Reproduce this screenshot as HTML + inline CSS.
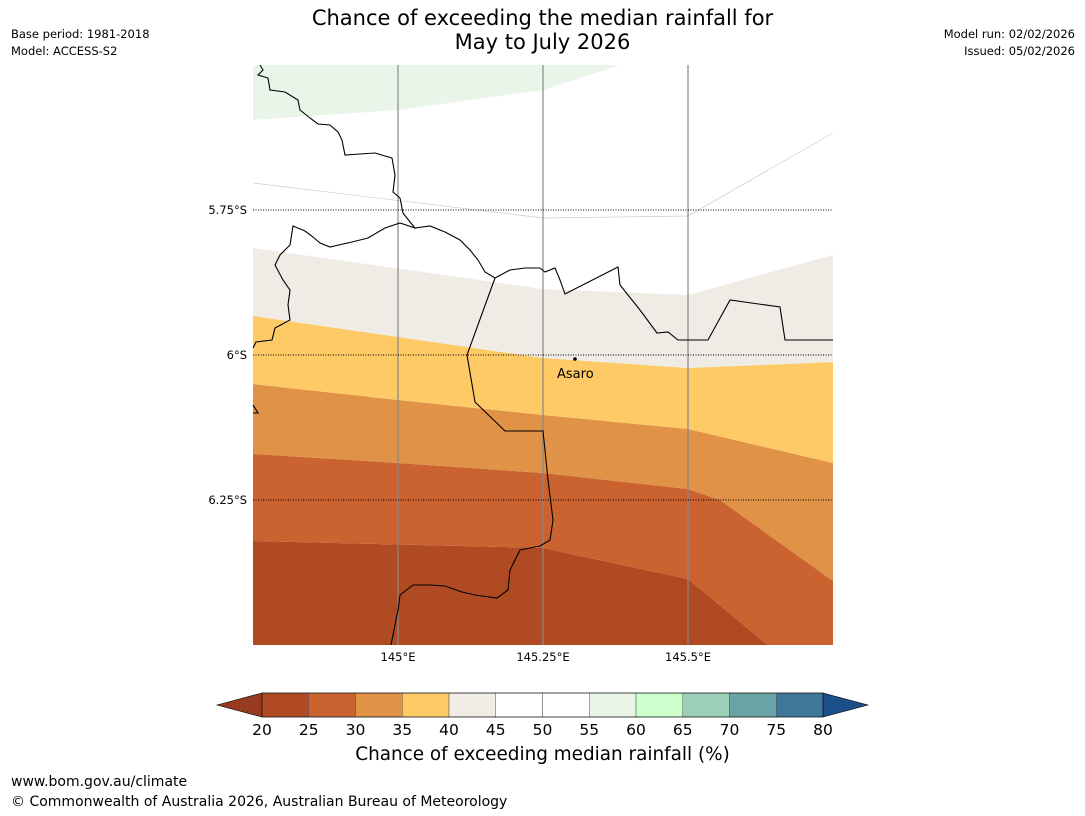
<!DOCTYPE html>
<html><head><meta charset="utf-8"><style>
body{margin:0;background:#fff;font-family:"DejaVu Sans","Liberation Sans",sans-serif;}
#wrap{position:relative;width:1085px;height:816px;overflow:hidden;}
.t{position:absolute;white-space:nowrap;color:#000;}
</style></head><body>
<div id="wrap">
<div class="t" style="left:0;width:1085px;top:6px;text-align:center;font-size:21px;line-height:24px;">Chance of exceeding the median rainfall for<br>May to July 2026</div>
<div class="t" style="left:11px;top:26px;font-size:11.5px;line-height:17px;">Base period: 1981-2018<br>Model: ACCESS-S2</div>
<div class="t" style="right:10px;top:26px;font-size:11.5px;line-height:17px;text-align:right;">Model run: 02/02/2026<br>Issued: 05/02/2026</div>
<svg id="map" width="1085" height="816" style="position:absolute;left:0;top:0"></svg>
<div class="t" style="left:0;width:1085px;text-align:center;top:744px;font-size:18.4px;">Chance of exceeding median rainfall (%)</div>
<div class="t" style="left:11px;top:774px;font-size:14px;">www.bom.gov.au/climate</div>
<div class="t" style="left:11px;top:794px;font-size:14px;">© Commonwealth of Australia 2026, Australian Bureau of Meteorology</div>
</div>
<script>
const lonTicks=[145,145.25,145.5];
const latTicks=[5.75,6,6.25];
const lonTickLabels=["145°E","145.25°E","145.5°E"];
const latTickLabels=["5.75°S","6°S","6.25°S"];
const cbLevels=[20,25,30,35,40,45,50,55,60,65,70,75,80];
const cbColors=["#b04a23","#cb6331","#e09247","#fdca66","#f0ebe5","#ffffff","#ffffff","#e9f5e9","#ccffcc","#9ccfb7","#6aa3a5","#3e7799"];
const X0=253,X1=833,Y0=65,Y1=645,LON0=144.75,LON1=145.75,LAT0=5.5,LAT1=6.5;
const FF='DejaVu Sans, Liberation Sans, sans-serif';
const px=l=>X0+(l-LON0)/(LON1-LON0)*(X1-X0);
const py=l=>Y0+(l-LAT0)/(LAT1-LAT0)*(Y1-Y0);
const svg=document.getElementById('map');const NS="http://www.w3.org/2000/svg";
function mk(tag,attrs,parent){const e=document.createElementNS(NS,tag);for(const k in attrs)e.setAttribute(k,attrs[k]);(parent||svg).appendChild(e);return e;}
const P=(a)=>a.map(p=>p.join(',')).join(' ');
const bands=[
 {c:"#b04a23",n:"band-20-25",pts:[[253,541],[543,548],[688,579],[768,645],[253,645]]},
 {c:"#cb6331",n:"band-25-30",pts:[[253,454],[398,463],[543,473],[688,489],[720,500],[833,581],[833,645],[768,645],[688,579],[543,548],[253,541]]},
 {c:"#e09247",n:"band-30-35",pts:[[253,384],[398,400],[543,415],[688,429],[833,463],[833,581],[720,500],[688,489],[543,473],[398,463],[253,454]]},
 {c:"#fdca66",n:"band-35-40",pts:[[253,316],[543,358],[688,368],[833,362],[833,463],[688,429],[543,415],[398,400],[253,384]]},
 {c:"#f0ebe5",n:"band-40-45",pts:[[253,248],[543,289],[688,295],[833,255],[833,362],[688,368],[543,358],[253,316]]},
 {c:"#e9f5e9",n:"band-55-60",pts:[[253,65],[620,65],[543,90],[398,110],[253,120]]}
];
bands.forEach(b=>{const e=mk('polygon',{points:P(b.pts),fill:b.c});});
const cl=mk('polyline',{points:P([[253,183],[543,218],[688,216],[833,133]]),fill:'none',stroke:'#ccc','stroke-width':0.7});

lonTicks.forEach((l,i)=>{const x=px(l);
 const g=mk('line',{x1:x,x2:x,y1:Y0,y2:Y1,stroke:'#888','stroke-width':1.2});
 const t=mk('text',{x:x,y:661,'font-size':11.5,'text-anchor':'middle','font-family':FF});t.textContent=lonTickLabels[i];});
latTicks.forEach((l,i)=>{const y=py(l);
 const g=mk('line',{x1:X0,x2:X1,y1:y,y2:y,stroke:'#000','stroke-width':1,'stroke-dasharray':'1,1.5'});
 const t=mk('text',{x:247,y:y+4,'font-size':11.5,'text-anchor':'end','font-family':FF});t.textContent=latTickLabels[i];});
const coast=[[260,65],[263,70],[258,75],[268,78],[270,90],[285,92],[298,100],[300,110],[310,118],[318,124],[330,125],[338,132],[342,140],[345,155],[360,154],[375,153],[392,158],[395,175],[393,192],[400,198],[403,213],[410,222],[415,228],[400,223],[385,228],[368,238],[352,242],[343,244],[330,247],[320,243],[313,237],[305,231],[293,226],[290,245],[280,255],[275,265],[283,280],[290,290],[288,305],[290,320],[275,328],[272,340],[256,342],[253,348]];
const coast2=[[415,228],[430,226],[445,232],[460,240],[470,250],[478,260],[485,272],[495,278],[510,270],[525,268],[540,268],[545,272],[555,268],[560,280],[565,294],[618,267],[620,285],[628,295],[640,310],[657,333],[668,332],[678,340],[708,340],[730,300],[780,307],[785,340],[833,340]];
const prov=[[495,278],[467,355],[475,402],[505,431],[543,431],[548,480],[553,520],[550,540],[540,546],[520,550],[510,570],[508,590],[497,598],[475,595],[462,592],[445,586],[430,585],[413,585],[400,595],[398,610],[391,645]];
[[coast,'coastline'],[coast2,'coastline-east'],[prov,'province-border'],[[[253,405],[258,413],[253,413]],'coastline-fragment']].forEach(([a,n])=>{const e=mk('polyline',{points:P(a),fill:'none',stroke:'#000','stroke-width':1.1});});
const dot=mk('circle',{cx:575,cy:359,r:1.8,fill:'#000'});
const at=mk('text',{x:557,y:378,'font-size':13,'font-family':FF});at.textContent='Asaro';
const CB0=262,CB1=823,CBY=693,CBH=24,w=(CB1-CB0)/cbColors.length;
const lt=mk('polygon',{points:P([[217,705],[CB0,CBY],[CB0,CBY+CBH]]),fill:'#973b20',stroke:'#000','stroke-width':0.6});
const rt=mk('polygon',{points:P([[868,705],[CB1,CBY],[CB1,CBY+CBH]]),fill:'#1b4f8a',stroke:'#000','stroke-width':0.6});
cbColors.forEach((c,i)=>{const r=mk('rect',{x:CB0+i*w,y:CBY,width:w,height:CBH,fill:c,stroke:'#555','stroke-width':0.5});});
mk('rect',{x:CB0,y:CBY,width:CB1-CB0,height:CBH,fill:'none',stroke:'#000','stroke-width':0.6});
cbLevels.forEach((v,i)=>{const t=mk('text',{x:CB0+i*w,y:735,'font-size':15.5,'text-anchor':'middle','font-family':FF});t.textContent=v;});
</script>
</body></html>
